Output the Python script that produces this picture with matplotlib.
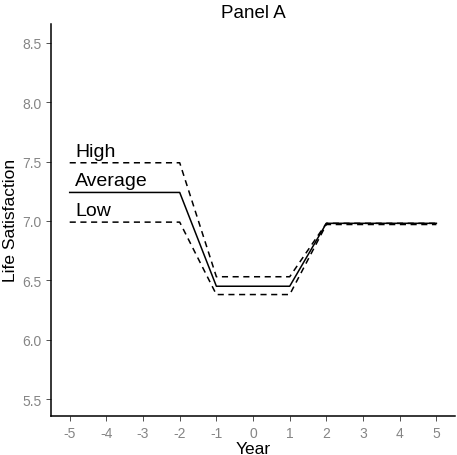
import numpy as np
import matplotlib
matplotlib.use("Agg")
import matplotlib.pyplot as plt

years = [-5, -4, -3, -2, -1, 0, 1, 2, 3, 4, 5]
high = [7.49, 7.49, 7.49, 7.49, 6.53, 6.53, 6.53, 6.98, 6.98, 6.98, 6.98]
average = [7.24, 7.24, 7.24, 7.24, 6.45, 6.45, 6.45, 6.98, 6.98, 6.98, 6.98]
low = [6.99, 6.99, 6.99, 6.99, 6.38, 6.38, 6.38, 6.97, 6.97, 6.97, 6.97]

plt.rcParams['font.family'] = ['Liberation Sans', 'DejaVu Sans']

fig = plt.figure(figsize=(4.57, 4.56), dpi=100)
ax = fig.add_axes([0.1116, 0.0855, 0.885, 0.86])

ax.plot(years, high, color='black', lw=1.1, ls=(0, (4, 3)))
ax.plot(years, average, color='black', lw=1.1)
ax.plot(years, low, color='black', lw=1.1, ls=(0, (4, 3)))

ax.text(-4.85, 7.55, "High", fontsize=14)
ax.text(-4.85, 7.30, "Average", fontsize=14)
ax.text(-4.85, 7.05, "Low", fontsize=14)

ax.set_xlim(-5.51, 5.52)
ax.set_ylim(5.357, 8.66)
ax.set_xticks(years)
ax.set_xticklabels([str(y) for y in years])
ax.set_yticks([5.5, 6.0, 6.5, 7.0, 7.5, 8.0, 8.5])
ax.set_yticklabels(["5.5", "6.0", "6.5", "7.0", "7.5", "8.0", "8.5"])
ax.tick_params(colors='#333333', labelcolor='#858585', labelsize=10, length=3.5, width=0.6)

for s in ['top', 'right']:
    ax.spines[s].set_visible(False)
for s in ['left', 'bottom']:
    ax.spines[s].set_linewidth(1.1)

ax.set_xlabel("Year", fontsize=12.5, labelpad=1)
ax.set_ylabel("Life Satisfaction", fontsize=12.5, labelpad=3)
ax.set_title("Panel A", fontsize=13.5, pad=5)

fig.savefig("out.png", dpi=100)
